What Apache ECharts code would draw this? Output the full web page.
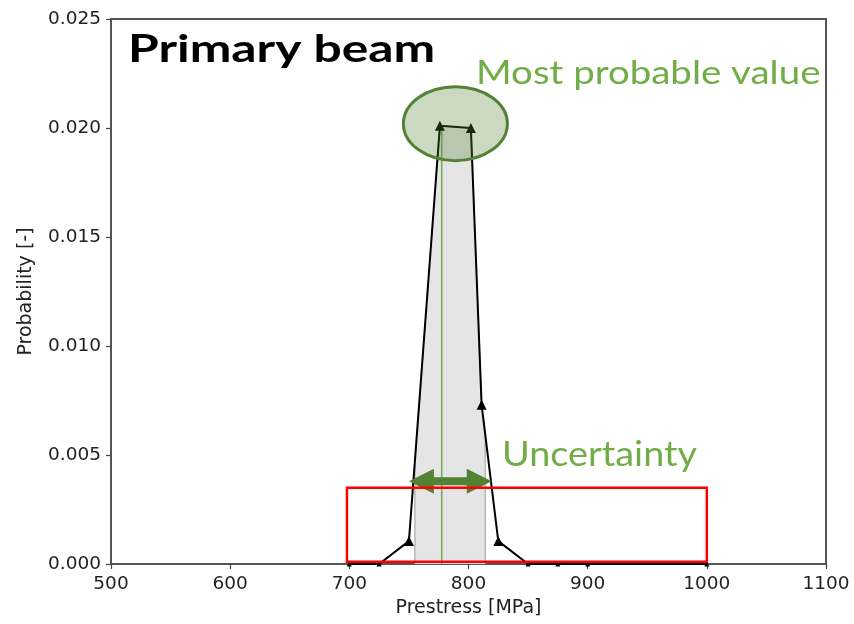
<!DOCTYPE html>
<html>
<head>
<meta charset="utf-8">
<script src="https://cdn.jsdelivr.net/npm/echarts@6/dist/echarts.min.js"></script>
<style>html,body{margin:0;padding:0;background:#fff}#c{width:854px;height:624px}</style>
</head>
<body>
<div id="c"></div>
<script>
// ---- data ----
const prestressX = [700, 725, 750, 776, 802, 811, 825, 850, 875, 900, 1000];
const probability = [0, 0, 0.00105, 0.0201, 0.0200, 0.0073, 0.00105, 0, 0, 0, 0];
const shadeX = [755, 755, 776, 802, 811, 814, 814];
const shadeY = [0, 0.0047, 0.0201, 0.0200, 0.0073, 0.0060, 0];
const modeX = [777.5, 777.5];
const modeY = [0, 0.0201];
const ellipseCenter = [789, 0.0202];
const arrowFrom = [750, 0.0038];
const arrowTo = [819.5, 0.0038];
const boxMin = [698, 0.0001];
const boxMax = [1000, 0.0035];
const xAxisRange = [500, 1100, 100];
const yAxisRange = [0, 0.025, 0.005];
const texts = { title: 'Primary beam', mode: 'Most probable value', unc: 'Uncertainty', xName: 'Prestress [MPa]', yName: 'Probability [-]' };

const zip = (a, b) => a.map((v, i) => [v, b[i]]);

const chart = echarts.init(document.getElementById('c'));
const tickFont = { fontFamily: 'DejaVu Sans', fontSize: 18.5, color: '#222' };
chart.setOption({
  animation: false,
  grid: { left: 111, right: 28, top: 19, bottom: 60, show: true, borderColor: '#555', borderWidth: 2, backgroundColor: 'transparent' },
  xAxis: {
    type: 'value', min: xAxisRange[0], max: xAxisRange[1], interval: xAxisRange[2],
    name: texts.xName, nameLocation: 'middle', nameGap: 34,
    nameTextStyle: { fontFamily: 'DejaVu Sans', fontSize: 19, color: '#222' },
    axisLine: { show: true, onZero: false, lineStyle: { color: '#555', width: 2 } },
    axisTick: { show: true, inside: false, length: 5, lineStyle: { color: '#444', width: 1.2 } },
    axisLabel: Object.assign({ margin: 11, formatter: v => String(v) }, tickFont),
    splitLine: { show: false }
  },
  yAxis: {
    type: 'value', min: yAxisRange[0], max: yAxisRange[1], interval: yAxisRange[2],
    name: texts.yName, nameLocation: 'middle', nameGap: 75,
    nameTextStyle: { fontFamily: 'DejaVu Sans', fontSize: 19, color: '#222' },
    axisLine: { show: true, lineStyle: { color: '#555', width: 2 } },
    axisTick: { show: true, inside: false, length: 5, lineStyle: { color: '#444', width: 1.2 } },
    axisLabel: Object.assign({ margin: 10, formatter: v => v.toFixed(3) }, tickFont),
    splitLine: { show: false }
  },
  series: [
    {
      type: 'line', data: zip(shadeX, shadeY), symbol: 'none', z: 1,
      lineStyle: { color: '#9a9a9a', width: 1 },
      areaStyle: { color: '#e5e5e5', opacity: 1 }
    },
    {
      type: 'line', data: zip(modeX, modeY), symbol: 'none', z: 2,
      lineStyle: { color: '#70ad47', width: 1.5 }
    },
    {
      type: 'line', data: zip(prestressX, probability), z: 3,
      symbol: 'triangle', symbolSize: v => (v[1] === 0 ? 5 : 10),
      itemStyle: { color: '#000' },
      lineStyle: { color: '#000', width: 2 }
    }
  ]
});

function px(p) { return chart.convertToPixel({ gridIndex: 0 }, p); }
const ec = px(ellipseCenter);
const a1 = px(arrowFrom), a2 = px(arrowTo);
const b1 = px([boxMin[0], boxMax[1]]), b2 = px([boxMax[0], boxMin[1]]);
const L = 25, h = 12.5, t = 4, ay = a1[1];
const arrowPts = [
  [a1[0], ay], [a1[0] + L, ay - h], [a1[0] + L, ay - t], [a2[0] - L, ay - t], [a2[0] - L, ay - h],
  [a2[0], ay], [a2[0] - L, ay + h], [a2[0] - L, ay + t], [a1[0] + L, ay + t], [a1[0] + L, ay + h]
];
chart.setOption({
  graphic: [
    { type: 'ellipse', z: 20, shape: { cx: ec[0], cy: ec[1], rx: 52, ry: 37 },
      style: { fill: 'rgba(84,130,53,0.3)', stroke: '#548235', lineWidth: 3 } },
    { type: 'polygon', z: 21, shape: { points: arrowPts }, style: { fill: '#548235' } },
    { type: 'rect', z: 22, shape: { x: b1[0], y: b1[1], width: b2[0] - b1[0], height: b2[1] - b1[1] },
      style: { fill: 'none', stroke: '#ff0000', lineWidth: 2.5 } },
    { type: 'text', z: 23, x: 128, y: 31, scaleX: 1.31,
      style: { text: texts.title, font: 'bold 38px Lato', fill: '#000', verticalAlign: 'top' } },
    { type: 'text', z: 23, x: 476, y: 57, scaleX: 1.165,
      style: { text: texts.mode, font: '33px Lato', fill: '#70ad47', verticalAlign: 'top' } },
    { type: 'text', z: 23, x: 502, y: 437, scaleX: 1.08,
      style: { text: texts.unc, font: '35px Lato', fill: '#70ad47', verticalAlign: 'top' } }
  ]
});
</script>
</body>
</html>
